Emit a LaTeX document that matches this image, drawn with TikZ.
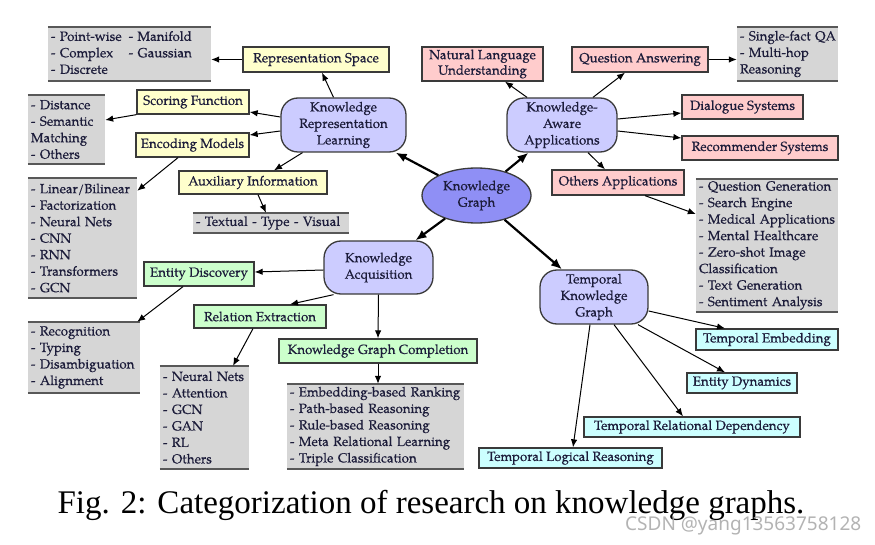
\documentclass[tikz,border=0pt]{standalone}
\usepackage{fontspec}
\setmainfont{TeX Gyre Pagella}[FakeBold=0.4]
\newfontfamily\capfont{Liberation Serif}
\newfontfamily\wmfont{Noto Sans}
\usetikzlibrary{arrows.meta,shapes.geometric}
\definecolor{ylw}{HTML}{FFFFCC}
\definecolor{pnk}{HTML}{FFCCCC}
\definecolor{grn}{HTML}{CCFFCC}
\definecolor{cyn}{HTML}{CCFFFF}
\definecolor{lpur}{HTML}{CCCCFF}
\definecolor{kgblue}{HTML}{8F8FF5}
\definecolor{lgray}{HTML}{D6D6D6}
\definecolor{bord}{HTML}{3A3A3A}
\definecolor{txt}{HTML}{1C1C3A}
\tikzset{
  wh/.style 2 args={minimum width=#1pt, minimum height=#2pt},
  base/.style={text=txt, inner sep=0pt, font=\fontsize{13.3}{16.5}\selectfont, align=center},
  cbox/.style={base, draw=bord, line width=1.3pt, fill=#1},
  big/.style={base, draw=bord, line width=1.3pt, fill=lpur, rounded corners=17pt},
  glist/.style={base, fill=lgray, inner xsep=3pt, align=left, text width=#1},
  rule/.style={draw=bord!85, line width=2pt},
  arr/.style={-{Latex[length=8pt,width=6.5pt]}, line width=1pt, draw=black},
  thk/.style={-{Latex[length=11pt,width=9pt]}, line width=2.2pt, draw=black},
}
\begin{document}
\begin{tikzpicture}[x=1pt,y=-1pt]
\useasboundingbox (0,0) rectangle (875,545);
% central
\node[base, draw=bord, line width=1.3pt, fill=kgblue, ellipse, wh={109}{55}] (kg) at (476.5,195.5) {Knowledge\\Graph};
\node[big, wh={125}{54}] (krl) at (343.5,125) {Knowledge\\Representation\\Learning};
\node[big, wh={110}{54}] (kaa) at (562,125) {Knowledge-\\Aware\\Applications};
\node[big, wh={109}{53}] (ka) at (378.5,267.5) {Knowledge\\Acquisition};
\node[big, wh={108}{54}] (tkg) at (594,297) {Temporal\\Knowledge\\Graph};
% yellow
\node[cbox=ylw, wh={146}{25}] (repspace) at (316,59.5) {Representation Space};
\node[cbox=ylw, wh={112}{24}] (scoring) at (193,102) {Scoring Function};
\node[cbox=ylw, wh={113}{24}] (encoding) at (192.5,145) {Encoding Models};
\node[cbox=ylw, wh={148}{23}] (aux) at (253,182.5) {Auxiliary Information};
% green
\node[cbox=grn, wh={110}{24}] (entdisc) at (199,274) {Entity Discovery};
\node[cbox=grn, wh={132}{23}] (relext) at (260,316.5) {Relation Extraction};
\node[cbox=grn, wh={198}{24}] (kgc) at (378,351) {Knowledge Graph Completion};
% pink
\node[cbox=pnk, wh={121}{34}, font=\fontsize{13.3}{15.5}\selectfont] (nlu) at (482.5,64) {Natural Language\\Understanding};
\node[cbox=pnk, wh={136}{25}] (qa) at (640,59.5) {Question Answering};
\node[cbox=pnk, wh={121}{24}] (dialog) at (742.5,107) {Dialogue Systems};
\node[cbox=pnk, wh={156}{24}] (recsys) at (760,148) {Recommender Systems};
\node[cbox=pnk, wh={132}{25}] (others) at (618,182.5) {Others Applications};
% cyan
\node[cbox=cyn, wh={142}{21}] (tempemb) at (767,339.5) {Temporal Embedding};
\node[cbox=cyn, wh={110}{20}] (entdyn) at (742,383) {Entity Dynamics};
\node[cbox=cyn, wh={216}{20}] (trd) at (692,427) {Temporal Relational Dependency};
\node[cbox=cyn, wh={183}{20}] (tlr) at (570.5,458) {Temporal Logical Reasoning};
% gray lists
\node[glist=157pt, minimum height=54pt] (rslist) at (129.5,54) {\begin{tabular}{@{}l@{\hspace{7pt}}l@{}}- Point-wise & - Manifold\\- Complex & - Gaussian\\- Discrete & \end{tabular}};
\node[glist=71pt, minimum height=69pt] (sflist) at (66.5,129.5) {- Distance\\- Semantic\\Matching\\- Others};
\node[glist=103pt, minimum height=120pt] (emlist) at (82.5,238) {- Linear/Bilinear\\- Factorization\\- Neural Nets\\- CNN\\- RNN\\- Transformers\\- GCN};
\node[glist=150pt, minimum height=20pt] (auxlist) at (271,223) {- Textual - Type - Visual};
\node[glist=106pt, minimum height=71pt] (edlist) at (84,357.5) {- Recognition\\- Typing\\- Disambiguation\\- Alignment};
\node[glist=83pt, minimum height=103pt] (relist) at (204.5,417.5) {- Neural Nets\\- Attention\\- GCN\\- GAN\\- RL\\- Others};
\node[glist=171pt, minimum height=85pt] (kgclist) at (375.5,426.5) {- Embedding-based Ranking\\- Path-based Reasoning\\- Rule-based Reasoning\\- Meta Relational Learning\\- Triple Classification};
\node[glist=95pt, minimum height=54pt] (qalist) at (787.5,54) {\mbox{- Single-fact QA}\\- Multi-hop\\Reasoning};
\node[glist=136pt, minimum height=133pt] (oalist) at (767,245.5) {- Question Generation\\- Search Engine\\- Medical Applications\\- Mental Healthcare\\- Zero-shot Image\\Classification\\- Text Generation\\- Sentiment Analysis};
\foreach \n in {rslist,sflist,emlist,auxlist,edlist,relist,kgclist,qalist,oalist}{
  \draw[rule] (\n.north west) -- (\n.north east) (\n.south west) -- (\n.south east);
}
% thick arrows
\draw[thk] (kg) -- (krl);
\draw[thk] (kg) -- (kaa);
\draw[thk] (kg) -- (ka);
\draw[thk] (kg) -- (tkg);
% KRL
\draw[arr] (repspace.west) -- (rslist.east |- repspace.west);
\draw[arr] ([xshift=-10pt]krl.north) -- ([xshift=6pt]repspace.south);
\draw[arr] ([yshift=8pt]krl.west) -- ([yshift=-10pt]scoring.east);
\draw[arr] ([yshift=-6pt]krl.west) -- ([yshift=10pt]encoding.east);
\draw[arr] ([xshift=-41pt]krl.south) -- ([xshift=21pt]aux.north);
\draw[arr] (scoring.south west) -- ([yshift=9.5pt]sflist.east);
\draw[arr] ([xshift=-14.5pt]encoding.south) -- ([yshift=-13pt]emlist.north east);
\draw[arr] ([xshift=5pt]aux.south) -- ([xshift=-5pt]auxlist.north);
% KAA
\draw[arr] ([xshift=-35pt]kaa.north) -- ([xshift=22.5pt]nlu.south);
\draw[arr] ([xshift=31pt]kaa.north) -- ([xshift=-15pt]qa.south);
\draw[arr] (qa.east) -- (qalist.west |- qa.east);
\draw[arr] ([yshift=6pt]kaa.east) -- ([yshift=-6pt]dialog.west);
\draw[arr] ([yshift=-6pt]kaa.east) -- ([yshift=10pt]recsys.west);
\draw[arr] ([xshift=26pt]kaa.south) -- ([xshift=-13pt]others.north);
\draw[arr] ([xshift=27pt]others.south) -- ([yshift=31.5pt]oalist.west);
% KA
\draw[arr] ([yshift=-2.5pt]ka.west) -- ([yshift=2pt]entdisc.east);
\draw[arr] ([xshift=-45pt]ka.south) -- ([xshift=30pt]relext.north);
\draw[arr] (ka.south) -- (kgc.north);
\draw[arr] ([xshift=-16pt]entdisc.south) -- ([xshift=-3pt]edlist.north east);
\draw[arr] ([xshift=-7pt]relext.south) -- ([xshift=28.5pt]relist.north);
\draw[arr] (kgc.south) -- (kgc.south |- kgclist.north);
% TKG
\draw[arr] ([yshift=-14pt]tkg.east) -- ([xshift=-42pt]tempemb.north);
\draw[arr] ([xshift=44pt]tkg.south) -- ([xshift=-17pt]entdyn.north);
\draw[arr] ([xshift=20pt]tkg.south) -- ([xshift=-9pt]trd.north);
\draw[arr] ([xshift=-4pt]tkg.south) -- ([xshift=2.5pt]tlr.north);
% caption
\node[anchor=base, inner sep=0pt, font=\capfont\fontsize{33}{36}\selectfont] (cap) at (431,513) {Fig. 2: Categorization of research on knowledge graphs.};
\node[anchor=base west, inner sep=0pt, text=gray!70, opacity=0.85, font=\wmfont\fontsize{19}{22}\selectfont] (wm) at (625,530) {CSDN @yang13563758128};
\end{tikzpicture}
\end{document}
